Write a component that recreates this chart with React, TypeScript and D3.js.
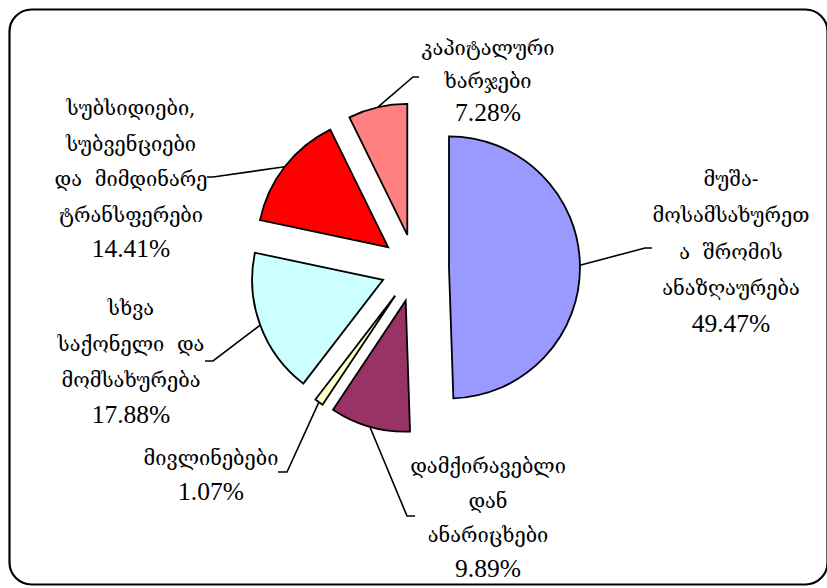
import React from 'react';
import * as d3 from 'd3';

// ---- data ----
const values: number[] = [49.47, 9.89, 1.07, 17.88, 14.41, 7.28];
const labelLines: string[][] = [
  ['მუშა-', 'მოსამსახურეთ', 'ა  შრომის', 'ანაზღაურება'],
  ['დამქირავებლი', 'დან', 'ანარიცხები'],
  ['მივლინებები'],
  ['სხვა', 'საქონელი  და', 'მომსახურება'],
  ['სუბსიდიები,', 'სუბვენციები', 'და  მიმდინარე', 'ტრანსფერები'],
  ['კაპიტალური', 'ხარჯები'],
];
const colors: string[] = ['#9999FF', '#993366', '#FFFFCC', '#CCFFFF', '#FF0000', '#FF8080'];

// ---- layout ----
const W = 827;
const H = 588;
const CX = 415;
const CY = 268;
const R = 131;
const EXPLODE = 34;

const labelLayout = [
  { x: 731, y0: 185.5, gap: 36.5, elbow: [645, 248], end: [652, 248] },
  { x: 488, y0: 473, gap: 34.7, elbow: [407, 516], end: [415, 516] },
  { x: 211, y0: 465, gap: 35, elbow: [287, 472], end: [278, 472] },
  { x: 131, y0: 315, gap: 36, elbow: [213, 361], end: [205, 361] },
  { x: 131, y0: 115, gap: 35.5, elbow: [213, 177], end: [207, 177] },
  { x: 488, y0: 55, gap: 33, elbow: [413, 77], end: [419, 77] },
];

const GEO_FONT = "'DejaVu Serif', 'DejaVu Sans', serif";
const NUM_FONT = "'Liberation Serif', Tinos, 'Times New Roman', 'DejaVu Serif', serif";

export default function App() {
  const pie = d3.pie<number>().sort(null).value((d) => d);
  const arcs = pie(values);
  const arcGen = d3.arc<d3.PieArcDatum<number>>().innerRadius(0).outerRadius(R);

  return (
    <svg
      width={W}
      height={H}
      viewBox={`0 0 ${W} ${H}`}
      style={{ position: 'absolute', left: 0, top: 0, background: '#fff' }}
    >
      <rect x={9.5} y={9.5} width={818} height={575} rx={22} ry={22} fill="#fff" stroke="#000" strokeWidth={2.2} />
      {arcs.map((a, i) => {
        const m = (a.startAngle + a.endAngle) / 2;
        const ox = CX + EXPLODE * Math.sin(m);
        const oy = CY - EXPLODE * Math.cos(m);
        const px = ox + R * Math.sin(m);
        const py = oy - R * Math.cos(m);
        const L = labelLayout[i];
        return (
          <g key={i}>
            <path
              d={arcGen(a) || ''}
              transform={`translate(${ox},${oy})`}
              fill={colors[i]}
              stroke="#000"
              strokeWidth={1.8}
              strokeLinejoin="miter"
            />
            <polyline
              points={`${px},${py} ${L.elbow[0]},${L.elbow[1]} ${L.end[0]},${L.end[1]}`}
              fill="none"
              stroke="#000"
              strokeWidth={1.6}
            />
          </g>
        );
      })}
      {arcs.map((a, i) => {
        const L = labelLayout[i];
        const lines = labelLines[i];
        return (
          <g key={'t' + i} textAnchor="middle" fill="#000">
            {lines.map((t, j) => (
              <text
                key={j}
                x={L.x}
                y={L.y0 + j * L.gap}
                style={{ whiteSpace: 'pre', fontFamily: GEO_FONT, fontSize: '20px' }}
              >
                {t}
              </text>
            ))}
            <text
              x={L.x}
              y={L.y0 + lines.length * L.gap}
              style={{ fontFamily: NUM_FONT, fontSize: '25.5px' }}
            >
              {values[i].toFixed(2) + '%'}
            </text>
          </g>
        );
      })}
    </svg>
  );
}
